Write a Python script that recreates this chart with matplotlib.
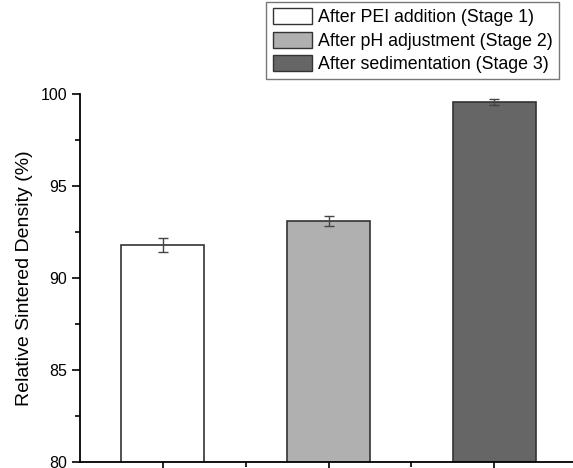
import matplotlib
matplotlib.use("Agg")
import matplotlib.pyplot as plt
from matplotlib.patches import Patch
from matplotlib.ticker import MultipleLocator

plt.rcParams['font.family'] = ['Liberation Sans', 'DejaVu Sans']

labels = ["After PEI addition (Stage 1)", "After pH adjustment (Stage 2)", "After sedimentation (Stage 3)"]
values = [91.8, 93.1, 99.55]
errors = [0.38, 0.29, 0.17]
colors = ["#FFFFFF", "#B0B0B0", "#666666"]
positions = [1, 2, 3]

fig = plt.figure(figsize=(5.73, 4.68), dpi=100)
W, H = 573, 468
left, right, top, bottom = 80, 577, 94, 462
ax = fig.add_axes([left / W, 1 - bottom / H, (right - left) / W, (bottom - top) / H])

ax.bar(positions, values, width=0.5, color=colors, edgecolor="#333333", linewidth=1.2, zorder=2)
ax.errorbar(positions, values, yerr=errors, fmt='none', ecolor="#444444", elinewidth=1, capsize=3.5, capthick=1, zorder=3)

ax.set_xlim(0.5, 3.5)
ax.set_ylim(80, 100)
ax.yaxis.set_major_locator(MultipleLocator(5))
ax.yaxis.set_minor_locator(MultipleLocator(2.5))
ax.set_xticks(positions)
ax.set_xticklabels([])
ax.set_xticks([1.5, 2.5], minor=True)
ax.tick_params(axis='both', which='major', direction='out', length=6, width=1.2, labelsize=11.5, pad=3)
ax.tick_params(axis='both', which='minor', direction='out', length=3.5, width=1.2)
ax.spines['top'].set_visible(False)
ax.spines['right'].set_visible(False)
ax.spines['left'].set_linewidth(1.3)
ax.spines['bottom'].set_linewidth(1.3)
ax.set_ylabel("Relative Sintered Density (%)", fontsize=14, labelpad=5.5)

handles = [Patch(facecolor=c, edgecolor="#333333", linewidth=1) for c in colors]
fig.legend(handles, labels, loc='upper right', bbox_to_anchor=(559 / W, 1 - 2 / H),
           fontsize=12.8, frameon=True, fancybox=False, edgecolor="#555555",
           handlelength=2.2, handleheight=1.0, handletextpad=0.35, labelspacing=0.3,
           borderpad=0.35, borderaxespad=0)

fig.savefig("out.png", dpi=100)
